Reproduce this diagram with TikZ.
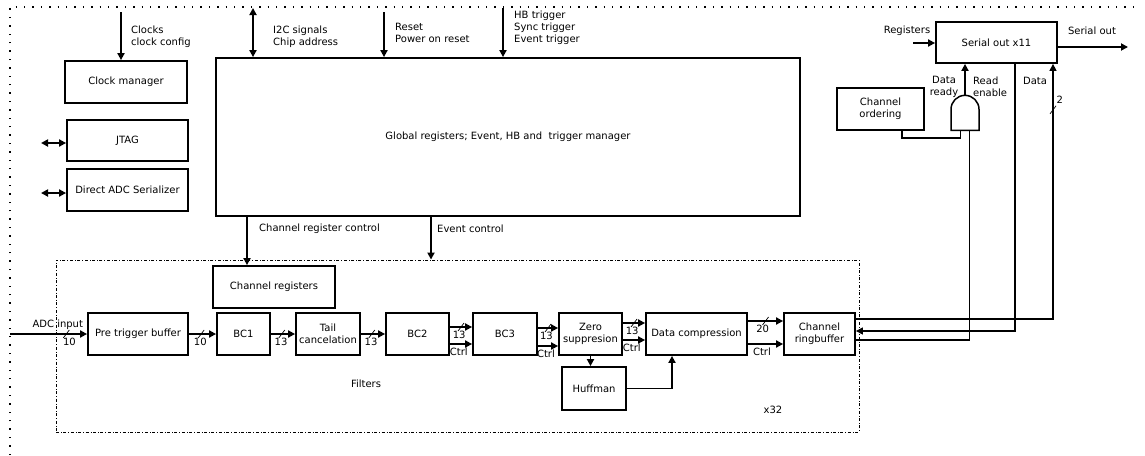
\documentclass[tikz,border=0pt]{standalone}
\usepackage{fontspec}
\setmainfont{DejaVu Sans}
\usetikzlibrary{arrows.meta, shapes.gates.logic.US}
\newcommand{\fsz}{\fontsize{10}{12}\selectfont}

\begin{document}
\begin{tikzpicture}[
    x=1pt, y=-1pt,
    >={Triangle[length=7pt, width=7pt]},
    font=\fsz,
    blk/.style={rectangle, draw, line width=1.8pt, align=center, inner sep=1pt, minimum width=#1, minimum height=42pt},
    lbl/.style={align=left, anchor=west, inner sep=0pt},
    sig/.style={line width=1.8pt},
    wire/.style={line width=1.3pt},
    buslbl/.style={below=2pt, inner sep=1pt},
    filtbox/.style={draw, dash dot, line width=0.9pt},
    outer/.style={line width=1.4pt, dash pattern=on 1.4pt off 7pt},
    pics/bus/.style={code={\draw[-, line width=0.7pt] (-3pt,-4pt) -- (3pt,4pt);}},
  ]
  \useasboundingbox (0,0) rectangle (1145,455);

  % outer frame
  \draw[outer] (10,455) -- (10,7) -- (1140,7);

  % blocks
  \node[blk=122pt] (clk) at (126,82) {Clock manager};
  \node[blk=121pt, minimum height=41pt] (jtag) at (127.5,140.5) {JTAG};
  \node[blk=121pt] (dadc) at (127.5,190) {Direct ADC Serializer};
  \node[blk=584pt, minimum height=158pt] (glob) at (508,137) {Global registers; Event, HB and~ trigger manager};
  \node[filtbox, minimum width=803pt, minimum height=172pt] (filt) at (457.5,346) {};
  \node[blk=122pt] (chreg) at (274,287) {Channel registers};
  \node[blk=100pt] (ptb) at (138,334) {Pre trigger buffer};
  \node[blk=53pt] (bc1) at (243.5,334) {BC1};
  \node[blk=64pt] (tail) at (328,334) {Tail\\cancelation};
  \node[blk=63pt] (bc2) at (417.5,334) {BC2};
  \node[blk=64pt] (bc3) at (505,334) {BC3};
  \node[blk=63pt] (zero) at (590.5,334) {Zero\\suppresion};
  \node[blk=101pt] (dcomp) at (696.5,334) {Data compression};
  \node[blk=64pt, minimum height=43pt] (huff) at (594,388.5) {Huffman};
  \node[blk=71pt] (ring) at (819.5,334) {Channel\\ringbuffer};
  \node[blk=121pt, minimum height=41pt] (sout) at (996.5,42.5) {Serial out x11};
  \node[blk=87pt] (chord) at (880.5,109) {Channel\\ordering};
  \node[and gate US, draw, line width=1.5pt, rotate=90, logic gate inputs=nn,
        minimum width=28pt, minimum height=28pt, inner sep=0pt] (andg) at (965,114) {};

  \node (filtlbl) at (366,384) {Filters};
  \node (x32) at (773,410) {x32};

  % inputs from outside
  \coordinate (clkin) at (121,12);
  \coordinate (i2cin) at (253,8);
  \coordinate (rstin) at (384,12);
  \coordinate (trgin) at (503,8);
  \draw[sig, ->] (clkin) -- (clkin |- clk.north);
  \draw[sig, <->] (i2cin) -- (i2cin |- glob.north);
  \draw[sig, ->] (rstin) -- (rstin |- glob.north);
  \draw[sig, ->] (trgin) -- (trgin |- glob.north);
  \node[lbl] (clklbl) at (131,37) {Clocks\\clock config};
  \node[lbl] (i2clbl) at (273,37) {I2C signals\\Chip address};
  \node[lbl] (rstlbl) at (395,33) {Reset\\Power on reset};
  \node[lbl] (trglbl) at (514,28) {HB trigger\\Sync trigger\\Event trigger};

  \coordinate (jtagx) at (41,143);
  \coordinate (dadcx) at (41,193);
  \draw[sig, <->] (jtagx) -- (jtagx -| jtag.west);
  \draw[sig, <->] (dadcx) -- (dadcx -| dadc.west);

  % control from global registers
  \draw[sig, ->] ([xshift=-261pt]glob.south) -- ([xshift=-27pt]chreg.north);
  \draw[sig, ->] ([xshift=-77pt]glob.south) -- ([xshift=-77pt]glob.south |- filt.north);
  \node[lbl] (crclbl) at (259,229) {Channel register control};
  \node[lbl] (evlbl) at (437,229) {Event control};

  % filter chain
  \coordinate (adcin) at (10,334);
  \draw[sig, ->] (adcin) -- (ptb.west) pic[pos=0.73]{bus}
    node[buslbl, pos=0.77] (w-adc) {10}
    node[pos=0.62, above=3pt, inner sep=1pt] (adclbl) {ADC input};
  \foreach \s/\e/\w in {ptb/bc1/10, bc1/tail/13, tail/bc2/13} {
    \draw[sig, ->] (\s.east) -- (\e.west) pic[pos=0.45]{bus} node[buslbl, pos=0.42] (w-\s) {\w};
  }
  \foreach \s/\e/\w/\a/\b in {bc2/bc3/13/7/-10, bc3/zero/13/6/-12, zero/dcomp/13/11/-6, dcomp/ring/20/13/-10} {
    \draw[sig, ->] ([yshift=\a pt]\s.east) -- ([yshift=\a pt]\e.west) pic[pos=0.5]{bus} node[buslbl, pos=0.42] (w-\s) {\w};
    \draw[sig, ->] ([yshift=\b pt]\s.east) -- ([yshift=\b pt]\e.west) node[buslbl, pos=0.4] (c-\s) {Ctrl};
  }
  \draw[sig, ->] (zero.south) -- (zero.south |- huff.north);
  \draw[sig, ->] (huff.east) -| ([xshift=-24.5pt]dcomp.south);

  % serial out
  \coordinate (regin) at (913,43);
  \coordinate (serout) at (1128,47);
  \draw[sig, ->] (regin) -- (regin -| sout.west);
  \draw[sig, ->] (serout -| sout.east) -- (serout);
  \node (reglbl) at (907,31) {Registers};
  \node (serlbl) at (1092,31) {Serial out};

  \draw[wire] ([xshift=21.5pt]chord.south) -- ++(0,7) -| (andg.input 1);
  \draw[wire] ([yshift=-6pt]ring.east) -| (andg.input 2);
  \draw[sig, ->] (andg.output) -- (andg.output |- sout.south);
  \draw[wire, ->] ([xshift=18.5pt]sout.south) |- ([yshift=3pt]ring.east);
  \draw[wire, ->] ([yshift=15pt]ring.east) -| ([xshift=56.5pt]sout.south)
    pic[pos=0.91]{bus} node[pos=0.93, right=2pt, inner sep=1pt] (w-2) {2};
  \node[align=center] (drdy) at (944,87) {Data\\ready};
  \node[lbl] (rden) at (973,87) {Read\\enable};
  \node (dlbl) at (1035,81) {Data};

\end{tikzpicture}
\end{document}
